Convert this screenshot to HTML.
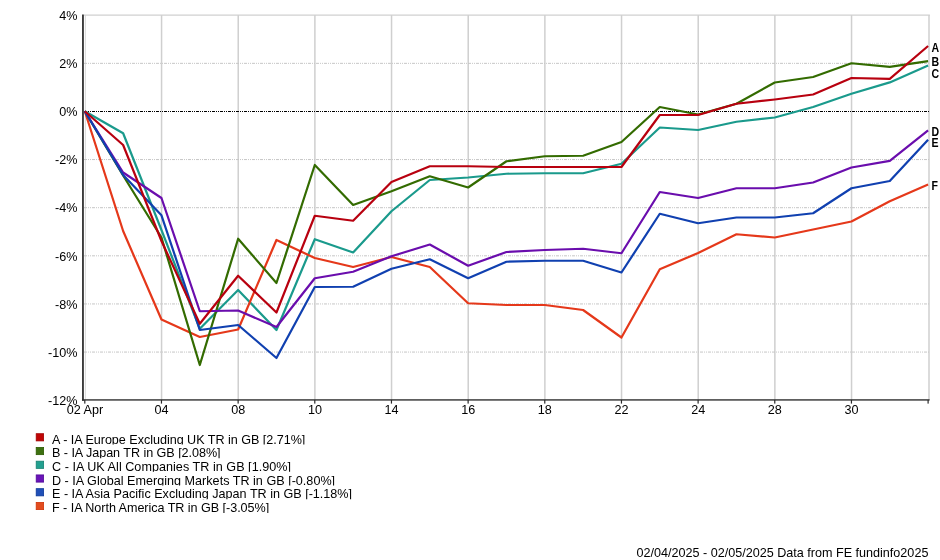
<!DOCTYPE html>
<html><head><meta charset="utf-8"><title>Chart</title>
<style>
html,body{margin:0;padding:0;background:#fff}
body{width:940px;height:560px;position:relative;overflow:hidden;font-family:"Liberation Sans",Arial,sans-serif;color:#000}
.t{font-family:"Liberation Sans",Arial,sans-serif;font-size:12.6px;fill:#000}
.b{font-family:"Liberation Sans",Arial,sans-serif;font-size:12px;font-weight:bold;fill:#000}
</style></head><body>
<svg width="940" height="560" viewBox="0 0 940 560" style="position:absolute;left:0;top:0">
<line x1="85.4" y1="15" x2="85.4" y2="400" stroke="#d0d0d0" stroke-width="0.8"/>
<line x1="161.56" y1="15" x2="161.56" y2="400" stroke="#cfcfcf" stroke-width="1.5"/>
<line x1="238.23" y1="15" x2="238.23" y2="400" stroke="#cfcfcf" stroke-width="1.5"/>
<line x1="314.89" y1="15" x2="314.89" y2="400" stroke="#cfcfcf" stroke-width="1.5"/>
<line x1="391.55" y1="15" x2="391.55" y2="400" stroke="#cfcfcf" stroke-width="1.5"/>
<line x1="468.22" y1="15" x2="468.22" y2="400" stroke="#cfcfcf" stroke-width="1.5"/>
<line x1="544.88" y1="15" x2="544.88" y2="400" stroke="#cfcfcf" stroke-width="1.5"/>
<line x1="621.55" y1="15" x2="621.55" y2="400" stroke="#cfcfcf" stroke-width="1.5"/>
<line x1="698.21" y1="15" x2="698.21" y2="400" stroke="#cfcfcf" stroke-width="1.5"/>
<line x1="774.87" y1="15" x2="774.87" y2="400" stroke="#cfcfcf" stroke-width="1.5"/>
<line x1="851.54" y1="15" x2="851.54" y2="400" stroke="#cfcfcf" stroke-width="1.5"/>
<line x1="929" y1="15" x2="929" y2="400" stroke="#cfcfcf" stroke-width="1.5"/>
<line x1="84" y1="15.15" x2="929.9" y2="15.15" stroke="#d0d0d0" stroke-width="1.4"/>
<line x1="84" y1="63.33" x2="929" y2="63.33" stroke="#c6c6c6" stroke-width="1" stroke-dasharray="3 1 1 1 1 1"/>
<line x1="84" y1="111.45" x2="929" y2="111.45" stroke="#000" stroke-width="1.15" stroke-dasharray="3 1 1 1 1 1"/>
<line x1="84" y1="159.57" x2="929" y2="159.57" stroke="#c6c6c6" stroke-width="1" stroke-dasharray="3 1 1 1 1 1"/>
<line x1="84" y1="207.70" x2="929" y2="207.70" stroke="#c6c6c6" stroke-width="1" stroke-dasharray="3 1 1 1 1 1"/>
<line x1="84" y1="255.82" x2="929" y2="255.82" stroke="#c6c6c6" stroke-width="1" stroke-dasharray="3 1 1 1 1 1"/>
<line x1="84" y1="303.95" x2="929" y2="303.95" stroke="#c6c6c6" stroke-width="1" stroke-dasharray="3 1 1 1 1 1"/>
<line x1="84" y1="352.07" x2="929" y2="352.07" stroke="#c6c6c6" stroke-width="1" stroke-dasharray="3 1 1 1 1 1"/>
<polyline fill="none" stroke="#1a9a8c" stroke-width="2.2" stroke-linejoin="round" points="84.80,111.25 123.13,133.25 161.46,230.00 199.80,328.75 238.13,290.00 276.46,330.00 314.79,239.25 353.12,252.50 391.45,211.25 429.79,180.00 468.12,177.50 506.45,173.75 544.78,173.25 583.11,173.25 621.45,163.75 659.78,127.50 698.11,130.00 736.44,121.75 774.77,117.50 813.10,107.00 851.44,93.75 889.77,82.40 928.10,65.50"/>
<polyline fill="none" stroke="#e5381a" stroke-width="2.2" stroke-linejoin="round" points="84.80,111.25 123.13,231.00 161.46,319.50 199.80,337.00 238.13,329.50 276.46,240.00 314.79,258.00 353.12,267.00 391.45,257.00 429.79,267.00 468.12,303.25 506.45,305.00 544.78,305.00 583.11,310.00 621.45,337.50 659.78,269.25 698.11,253.00 736.44,234.25 774.77,237.50 813.10,229.50 851.44,221.50 889.77,201.20 928.10,184.60"/>
<polyline fill="none" stroke="#336b00" stroke-width="2.2" stroke-linejoin="round" points="84.80,111.25 123.13,175.50 161.46,237.50 199.80,365.00 238.13,238.75 276.46,283.00 314.79,165.00 353.12,205.00 391.45,191.25 429.79,176.25 468.12,187.50 506.45,161.25 544.78,156.25 583.11,155.75 621.45,142.00 659.78,107.00 698.11,114.50 736.44,103.75 774.77,82.50 813.10,77.00 851.44,63.25 889.77,66.90 928.10,61.20"/>
<polyline fill="none" stroke="#6a0dad" stroke-width="2.2" stroke-linejoin="round" points="84.80,111.25 123.13,172.50 161.46,198.00 199.80,311.25 238.13,310.50 276.46,327.00 314.79,278.25 353.12,271.75 391.45,256.25 429.79,244.50 468.12,265.75 506.45,252.00 544.78,250.00 583.11,248.75 621.45,253.25 659.78,192.00 698.11,198.00 736.44,188.25 774.77,188.25 813.10,182.50 851.44,167.50 889.77,160.80 928.10,130.40"/>
<polyline fill="none" stroke="#1040b0" stroke-width="2.2" stroke-linejoin="round" points="84.80,111.25 123.13,175.00 161.46,215.30 199.80,330.00 238.13,325.00 276.46,358.00 314.79,287.00 353.12,286.75 391.45,268.75 429.79,259.25 468.12,278.25 506.45,261.75 544.78,260.75 583.11,260.75 621.45,272.50 659.78,213.75 698.11,223.25 736.44,217.50 774.77,217.50 813.10,213.25 851.44,188.25 889.77,181.00 928.10,139.70"/>
<polyline fill="none" stroke="#b8000f" stroke-width="2.2" stroke-linejoin="round" points="84.80,111.25 123.13,145.00 161.46,241.00 199.80,323.75 238.13,275.75 276.46,312.50 314.79,215.75 353.12,220.75 391.45,182.00 429.79,166.25 468.12,166.25 506.45,167.00 544.78,167.00 583.11,167.00 621.45,167.00 659.78,115.00 698.11,115.00 736.44,103.75 774.77,99.50 813.10,94.50 851.44,78.00 889.77,78.90 928.10,46.00"/>
<rect x="82.0" y="14.5" width="1.9" height="386.3" fill="#3c3c3c"/>
<rect x="82.0" y="399.25" width="847.6" height="1.35" fill="#2a2a2a"/>
<rect x="84.20" y="400" width="1.2" height="3.6" fill="#2a2a2a"/>
<rect x="160.86" y="400" width="1.2" height="3.6" fill="#2a2a2a"/>
<rect x="237.53" y="400" width="1.2" height="3.6" fill="#2a2a2a"/>
<rect x="314.19" y="400" width="1.2" height="3.6" fill="#2a2a2a"/>
<rect x="390.85" y="400" width="1.2" height="3.6" fill="#2a2a2a"/>
<rect x="467.52" y="400" width="1.2" height="3.6" fill="#2a2a2a"/>
<rect x="544.18" y="400" width="1.2" height="3.6" fill="#2a2a2a"/>
<rect x="620.85" y="400" width="1.2" height="3.6" fill="#2a2a2a"/>
<rect x="697.51" y="400" width="1.2" height="3.6" fill="#2a2a2a"/>
<rect x="774.17" y="400" width="1.2" height="3.6" fill="#2a2a2a"/>
<rect x="850.84" y="400" width="1.2" height="3.6" fill="#2a2a2a"/>
<rect x="927.50" y="400" width="1.2" height="3.6" fill="#2a2a2a"/>
<text x="77.5" y="19.95" text-anchor="end" class="t">4%</text>
<text x="77.5" y="68.08" text-anchor="end" class="t">2%</text>
<text x="77.5" y="116.20" text-anchor="end" class="t">0%</text>
<text x="77.5" y="164.32" text-anchor="end" class="t">-2%</text>
<text x="77.5" y="212.45" text-anchor="end" class="t">-4%</text>
<text x="77.5" y="260.57" text-anchor="end" class="t">-6%</text>
<text x="77.5" y="308.70" text-anchor="end" class="t">-8%</text>
<text x="77.5" y="356.82" text-anchor="end" class="t">-10%</text>
<text x="77.5" y="404.95" text-anchor="end" class="t">-12%</text>
<text x="84.90" y="414.4" text-anchor="middle" class="t">02 Apr</text>
<text x="161.56" y="414.4" text-anchor="middle" class="t">04</text>
<text x="238.23" y="414.4" text-anchor="middle" class="t">08</text>
<text x="314.89" y="414.4" text-anchor="middle" class="t">10</text>
<text x="391.55" y="414.4" text-anchor="middle" class="t">14</text>
<text x="468.22" y="414.4" text-anchor="middle" class="t">16</text>
<text x="544.88" y="414.4" text-anchor="middle" class="t">18</text>
<text x="621.55" y="414.4" text-anchor="middle" class="t">22</text>
<text x="698.21" y="414.4" text-anchor="middle" class="t">24</text>
<text x="774.87" y="414.4" text-anchor="middle" class="t">28</text>
<text x="851.54" y="414.4" text-anchor="middle" class="t">30</text>
<text transform="translate(931.4,52) scale(0.88,1)" class="b">A</text>
<text transform="translate(931.4,66.2) scale(0.88,1)" class="b">B</text>
<text transform="translate(931.4,77.9) scale(0.88,1)" class="b">C</text>
<text transform="translate(931.4,135.7) scale(0.88,1)" class="b">D</text>
<text transform="translate(931.4,147.3) scale(0.88,1)" class="b">E</text>
<text transform="translate(931.4,190.2) scale(0.88,1)" class="b">F</text>
<rect x="36.2" y="433.70" width="7.4" height="7.2" fill="#c00505" stroke="#a00000" stroke-width="0.8"/>
<clipPath id="c0"><rect x="40" y="431.60" width="500" height="12.9"/></clipPath>
<text x="52" y="443.60" class="t" style="letter-spacing:-0.03px" clip-path="url(#c0)">A - IA Europe Excluding UK TR in GB [2.71%]</text>
<rect x="36.2" y="447.44" width="7.4" height="7.2" fill="#3d7010" stroke="#2c5a00" stroke-width="0.8"/>
<clipPath id="c1"><rect x="40" y="445.28" width="500" height="12.9"/></clipPath>
<text x="52" y="457.28" class="t" style="letter-spacing:-0.045px" clip-path="url(#c1)">B - IA Japan TR in GB [2.08%]</text>
<rect x="36.2" y="461.18" width="7.4" height="7.2" fill="#22a090" stroke="#158070" stroke-width="0.8"/>
<clipPath id="c2"><rect x="40" y="458.96" width="500" height="12.9"/></clipPath>
<text x="52" y="470.96" class="t" style="letter-spacing:0.033px" clip-path="url(#c2)">C - IA UK All Companies TR in GB [1.90%]</text>
<rect x="36.2" y="474.92" width="7.4" height="7.2" fill="#6a14b8" stroke="#500a98" stroke-width="0.8"/>
<clipPath id="c3"><rect x="40" y="472.64" width="500" height="12.9"/></clipPath>
<text x="52" y="484.64" class="t" style="letter-spacing:0.0125px" clip-path="url(#c3)">D - IA Global Emerging Markets TR in GB [-0.80%]</text>
<rect x="36.2" y="488.66" width="7.4" height="7.2" fill="#2050b8" stroke="#0c3898" stroke-width="0.8"/>
<clipPath id="c4"><rect x="40" y="486.32" width="500" height="12.9"/></clipPath>
<text x="52" y="498.32" class="t" style="letter-spacing:0px" clip-path="url(#c4)">E - IA Asia Pacific Excluding Japan TR in GB [-1.18%]</text>
<rect x="36.2" y="502.40" width="7.4" height="7.2" fill="#e24c1e" stroke="#d03408" stroke-width="0.8"/>
<clipPath id="c5"><rect x="40" y="500.00" width="500" height="12.9"/></clipPath>
<text x="52" y="512.00" class="t" style="letter-spacing:-0.045px" clip-path="url(#c5)">F - IA North America TR in GB [-3.05%]</text>
<text x="928.4" y="557.1" text-anchor="end" class="t">02/04/2025 - 02/05/2025 Data from FE fundinfo2025</text>
</svg>

</body></html>
